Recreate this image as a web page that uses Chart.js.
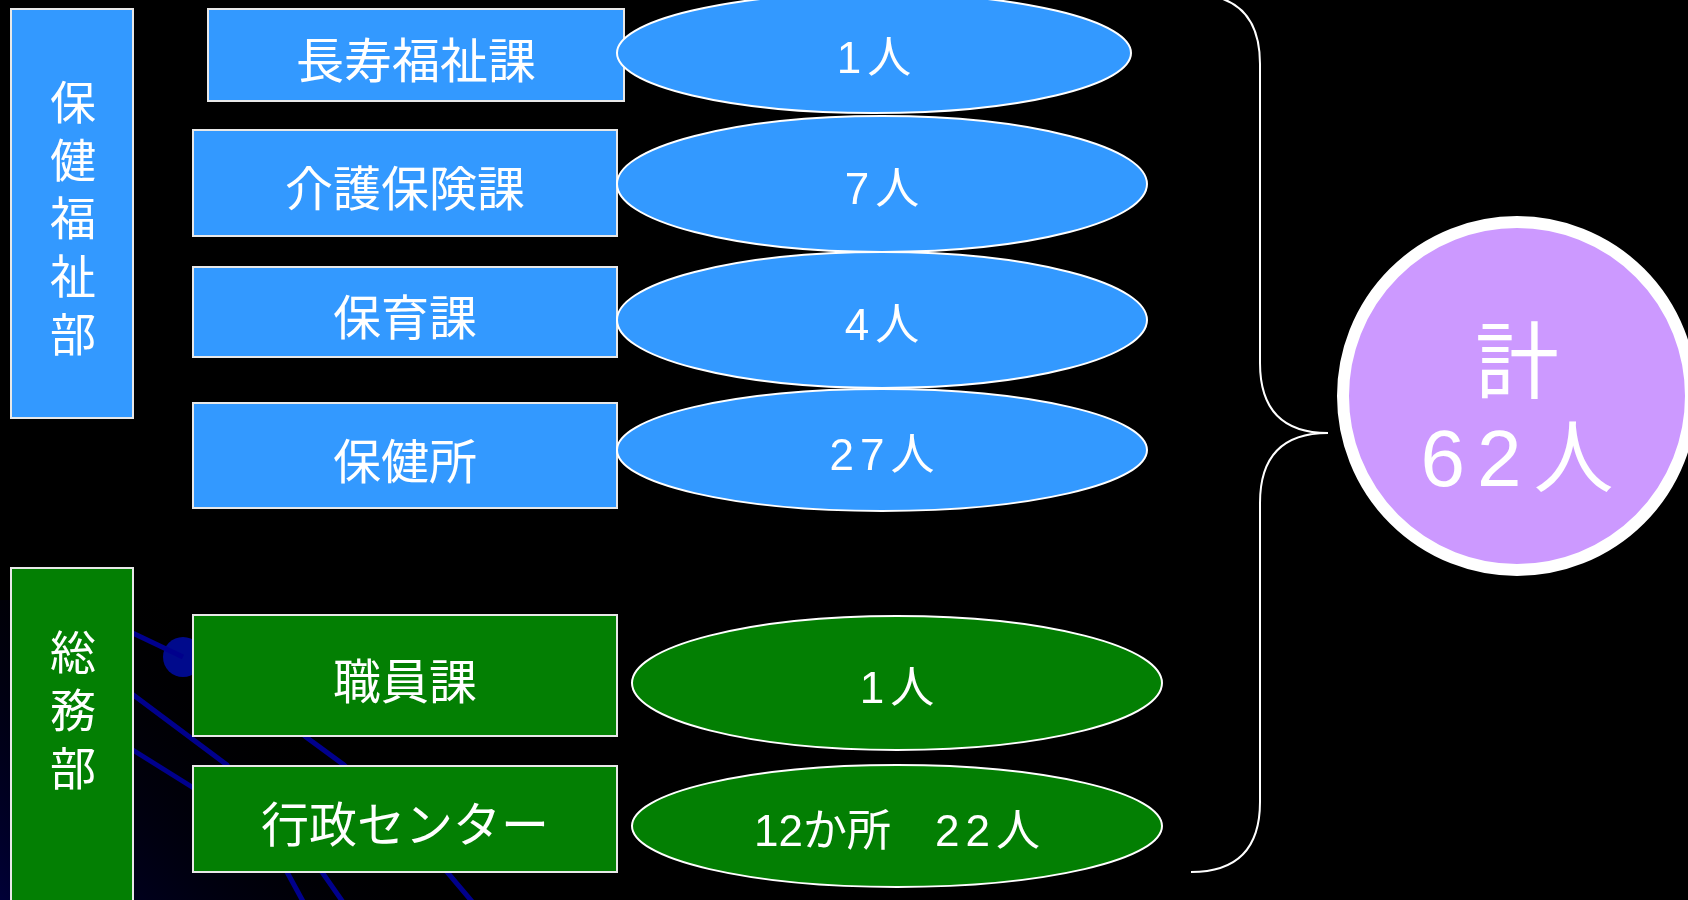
<!DOCTYPE html>
<html lang="ja">
<head>
<meta charset="UTF-8">
<title>職員数</title>
<style>
  html,body{margin:0;padding:0;background:#000;}
  #wrap{width:1688px;height:900px;}
</style>
</head>
<body>
<div id="wrap"><canvas id="chart" width="1688" height="900"></canvas></div>
<script src="https://cdn.jsdelivr.net/npm/chart.js"></script>
<script>
// data
const departments = ['保健福祉部', '総務部']
const sections = ['長寿福祉課', '介護保険課', '保育課', '保健所', '職員課', '行政センター']
const sectionDept = [0, 0, 0, 0, 1, 1]
const staffCounts = [1, 7, 4, 27, 1, 22]
const officeCounts = [null, null, null, null, null, 12]
const totalLabel = '計'

// layout (chart units = pixels of the 1688x900 picture)
const deptColors = ['#3399ff', '#037f03']
const deptBoxes = [[11, 9, 133, 418], [11, 568, 133, 910]]
const deptTextTop = [102, 652]
const deptTextStep = 58
const sectionBoxes = [
  [208, 9, 624, 101], [193, 130, 617, 236], [193, 267, 617, 357],
  [193, 403, 617, 508], [193, 615, 617, 736], [193, 766, 617, 872]
]
// cx, cy, rx, ry
const countEllipses = [
  [874, 53, 257, 60], [882, 184, 265, 68], [882, 320, 265, 68],
  [882, 450, 265, 61], [897, 683, 265, 67], [897, 826, 265, 61]
]
const brace = {x: 1260, tip: 1328, mid: 433, end: 1191, top: -6, bottom: 872, r: 70}
const totalCircle = {cx: 1517, cy: 396, r: 174}
const decoLines = [
  [[120, 627], [183, 657]],
  [[120, 685], [227, 765], [287, 872], [305, 905]],
  [[120, 742], [192, 787], [260, 830]],
  [[250, 690], [306, 737], [344, 765], [447, 872], [475, 905]],
  [[250, 800], [322, 872], [345, 905]]
]
const decoDot = [183, 657]

const FONT = '"Liberation Sans", "Noto Sans CJK JP", sans-serif'
const CJK = '"Noto Sans CJK JP", sans-serif'

const total = staffCounts.reduce((a, b) => a + b, 0)

function countParts(i){
  let parts = []
  if (officeCounts[i]) parts.push({t: officeCounts[i] + 'か所　', sp: 0})
  parts.push({t: staffCounts[i] + '人', sp: 6})
  return parts
}

function drawParts(ctx, parts, cx, cy, size){
  ctx.font = size + 'px ' + FONT
  let w = 0
  parts.forEach(p => { ctx.letterSpacing = p.sp + 'px'; p.w = ctx.measureText(p.t).width - p.sp; w += p.w })
  let x = cx - w / 2
  ctx.textAlign = 'left'
  parts.forEach(p => { ctx.letterSpacing = p.sp + 'px'; ctx.fillText(p.t, x, cy); x += p.w })
  ctx.letterSpacing = '0px'
}

const bgPlugin = {
  id: 'bg',
  beforeDatasetsDraw(chart){
    const ctx = chart.ctx
    ctx.save()
    ctx.fillStyle = '#000'
    ctx.fillRect(0, 0, chart.width, chart.height)
    const g = ctx.createLinearGradient(40, 960, 290, 710)
    g.addColorStop(0, 'rgba(0,0,60,1)')
    g.addColorStop(1, 'rgba(0,0,0,0)')
    ctx.fillStyle = g
    ctx.fillRect(0, 600, 400, 300)
    ctx.restore()
  }
}

const diagramPlugin = {
  id: 'diagram',
  afterDatasetsDraw(chart){
    const ctx = chart.ctx
    const sx = chart.scales.x, sy = chart.scales.y
    const X = v => sx.getPixelForValue(v)
    const Y = v => sy.getPixelForValue(v)
    const W = v => sx.getPixelForValue(v) - sx.getPixelForValue(0)
    const H = v => sy.getPixelForValue(v) - sy.getPixelForValue(0)
    ctx.save()
    ctx.textBaseline = 'middle'

    // department boxes with vertical text
    departments.forEach((d, i) => {
      const b = deptBoxes[i]
      ctx.fillStyle = deptColors[i]
      ctx.fillRect(X(b[0]), Y(b[1]), X(b[2]) - X(b[0]), Y(b[3]) - Y(b[1]))
      ctx.strokeStyle = '#e8e8e8'; ctx.lineWidth = 2
      ctx.strokeRect(X(b[0]), Y(b[1]), X(b[2]) - X(b[0]), Y(b[3]) - Y(b[1]))
      ctx.fillStyle = '#fff'; ctx.font = '46px ' + CJK; ctx.textAlign = 'center'
      Array.from(d).forEach((ch, k) => {
        ctx.fillText(ch, X((b[0] + b[2]) / 2 + 1), Y(deptTextTop[i] + k * deptTextStep))
      })
    })

    // section boxes
    sections.forEach((s, i) => {
      const b = sectionBoxes[i]
      ctx.fillStyle = deptColors[sectionDept[i]]
      ctx.fillRect(X(b[0]), Y(b[1]), X(b[2]) - X(b[0]), Y(b[3]) - Y(b[1]))
      ctx.strokeStyle = '#e8e8e8'; ctx.lineWidth = 2
      ctx.strokeRect(X(b[0]), Y(b[1]), X(b[2]) - X(b[0]), Y(b[3]) - Y(b[1]))
      ctx.fillStyle = '#fff'; ctx.font = '48px ' + CJK; ctx.textAlign = 'center'
      ctx.fillText(s, X((b[0] + b[2]) / 2), Y((b[1] + b[3]) / 2 + 5))
    })

    // staff count ellipses
    staffCounts.forEach((n, i) => {
      const e = countEllipses[i]
      ctx.beginPath()
      ctx.ellipse(X(e[0]), Y(e[1]), W(e[2]), H(e[3]), 0, 0, Math.PI * 2)
      ctx.fillStyle = deptColors[sectionDept[i]]
      ctx.fill()
      ctx.strokeStyle = '#fff'; ctx.lineWidth = 2
      ctx.stroke()
      ctx.fillStyle = '#fff'
      drawParts(ctx, countParts(i), X(e[0]), Y(e[1] + 8), 44)
    })

    // brace
    const B = brace
    ctx.beginPath()
    ctx.moveTo(X(B.end), Y(B.top))
    ctx.quadraticCurveTo(X(B.x), Y(B.top), X(B.x), Y(B.top + B.r))
    ctx.lineTo(X(B.x), Y(B.mid - B.r))
    ctx.quadraticCurveTo(X(B.x), Y(B.mid), X(B.tip), Y(B.mid))
    ctx.quadraticCurveTo(X(B.x), Y(B.mid), X(B.x), Y(B.mid + B.r))
    ctx.lineTo(X(B.x), Y(B.bottom - B.r))
    ctx.quadraticCurveTo(X(B.x), Y(B.bottom), X(B.end), Y(B.bottom))
    ctx.strokeStyle = '#fff'; ctx.lineWidth = 2
    ctx.stroke()

    // total circle
    const c = totalCircle
    ctx.beginPath()
    ctx.arc(X(c.cx), Y(c.cy), W(c.r), 0, Math.PI * 2)
    ctx.fillStyle = '#cc99ff'
    ctx.fill()
    ctx.strokeStyle = '#fff'; ctx.lineWidth = 12
    ctx.stroke()
    ctx.fillStyle = '#fff'; ctx.textAlign = 'center'
    ctx.font = '84px ' + CJK
    ctx.fillText(totalLabel, X(c.cx), Y(c.cy - 36))
    drawParts(ctx, [{t: total + '人', sp: 12}], X(c.cx), Y(c.cy + 68), 80)

    ctx.restore()
  }
}

new Chart(document.getElementById('chart'), {
  type: 'scatter',
  data: {
    datasets: [
      ...decoLines.map(pts => ({
        type: 'line',
        data: pts.map(p => ({x: p[0], y: p[1]})),
        borderColor: '#00008c',
        borderWidth: 5,
        pointRadius: 0,
        tension: 0,
        clip: false
      })),
      {
        data: [{x: decoDot[0], y: decoDot[1]}],
        pointRadius: 20,
        backgroundColor: '#000a8c',
        borderWidth: 0
      }
    ]
  },
  options: {
    responsive: false,
    animation: false,
    events: [],
    layout: {padding: 0, autoPadding: false},
    plugins: {legend: {display: false}, tooltip: {enabled: false}},
    scales: {
      x: {type: 'linear', min: 0, max: 1688, display: false},
      y: {type: 'linear', min: 0, max: 900, reverse: true, display: false}
    }
  },
  plugins: [bgPlugin, diagramPlugin]
})
</script>
</body>
</html>
